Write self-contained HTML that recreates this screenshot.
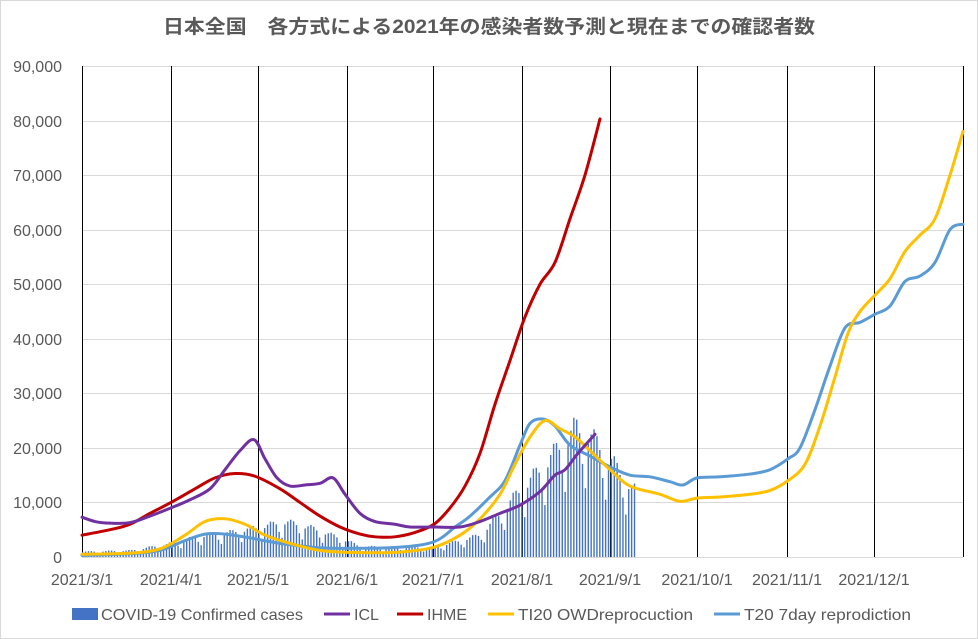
<!DOCTYPE html>
<html><head><meta charset="utf-8"><style>
html,body{margin:0;padding:0;background:#fff}
svg{display:block;font-family:"Liberation Sans","Noto Sans CJK JP",sans-serif}
</style></head><body>
<svg id="c" width="978" height="639" xmlns="http://www.w3.org/2000/svg">
<rect x="0.5" y="0.5" width="977" height="638" fill="#fff" stroke="#d9d9d9"/>
<text x="163" y="33" font-size="19" font-weight="bold" fill="#595959" textLength="652" lengthAdjust="spacingAndGlyphs">日本全国　各方式による2021年の感染者数予測と現在までの確認者数</text>
<g id="grid" stroke="#d9d9d9" stroke-width="1"></g>
<g id="vl" stroke="#000" stroke-width="1"></g>
<g id="bars" fill="#4472C4"></g>
<g id="lines" fill="none" stroke-width="3" stroke-linejoin="round" stroke-linecap="round"></g>
<g font-size="16" fill="#595959" text-anchor="end">
<text x="62" y="563">0</text><text x="62" y="508">10,000</text><text x="62" y="454">20,000</text><text x="62" y="399">30,000</text><text x="62" y="345">40,000</text><text x="62" y="290">50,000</text><text x="62" y="236">60,000</text><text x="62" y="181">70,000</text><text x="62" y="127">80,000</text><text x="62" y="72">90,000</text>
</g>
<g font-size="16" fill="#595959" text-anchor="middle">
<text x="82" y="585">2021/3/1</text><text x="171" y="585">2021/4/1</text><text x="258" y="585">2021/5/1</text><text x="347" y="585">2021/6/1</text><text x="433" y="585">2021/7/1</text><text x="522" y="585">2021/8/1</text><text x="610" y="585">2021/9/1</text><text x="697" y="585">2021/10/1</text><text x="787" y="585">2021/11/1</text><text x="874" y="585">2021/12/1</text>
</g>
<g font-size="16" fill="#595959">
<rect x="72" y="608" width="26" height="12" fill="#4472C4"/><text x="101" y="620" textLength="202" lengthAdjust="spacingAndGlyphs">COVID-19 Confirmed cases</text>
<line x1="324" y1="614" x2="350" y2="614" stroke="#7030A0" stroke-width="3"/><text x="354" y="620">ICL</text>
<line x1="397" y1="614" x2="423" y2="614" stroke="#C00000" stroke-width="3"/><text x="427" y="620">IHME</text>
<line x1="488" y1="614" x2="514" y2="614" stroke="#FFC000" stroke-width="3"/><text x="518" y="620" textLength="175" lengthAdjust="spacingAndGlyphs">TI20 OWDreprocuction</text>
<line x1="714" y1="614" x2="740" y2="614" stroke="#5B9BD5" stroke-width="3"/><text x="744" y="620" textLength="167" lengthAdjust="spacingAndGlyphs">T20 7day reprodiction</text>
</g>
</svg>
<script>
const NS="http://www.w3.org/2000/svg";
const Y=v=>557-v*5.4556;
function el(p,t,a){const e=document.createElementNS(NS,t);for(const k in a)e.setAttribute(k,a[k]);p.appendChild(e);return e;}
const g=document.getElementById('grid');
for(let i=1;i<=9;i++){const y=Math.round(Y(i*10))+0.5;el(g,'line',{x1:82,x2:963,y1:y,y2:y});}
el(g,'line',{x1:82,x2:963,y1:557.5,y2:557.5});
const vl=document.getElementById('vl');
[82,171,258,347,433,522,610,697,787,874,963].forEach(x=>el(vl,'line',{x1:x+0.5,x2:x+0.5,y1:66,y2:557}));
function interp(pts,x){for(let i=0;i<pts.length-1;i++){if(x>=pts[i][0]&&x<=pts[i+1][0]){const t=(x-pts[i][0])/(pts[i+1][0]-pts[i][0]);return pts[i][1]+t*(pts[i+1][1]-pts[i][1]);}}return pts[pts.length-1][1];}
const env=[[82,0.9],[130,1.1],[171,2.3],[200,3.6],[230,4.2],[255,5],[285,6],[310,5],[340,3.2],[360,1.8],[400,1.6],[434,1.7],[460,2.8],[480,3.8],[500,7.5],[520,11.5],[540,15],[560,19],[575,22],[590,20.5],[610,16.5],[625,13],[636,11]];
const wf=[1,1.1,1.18,1.15,1.05,0.8,0.6];
const b=document.getElementById('bars');
for(let d=0;;d++){const x=82+d*2.889;if(x>636)break;const v=interp(env,x)*wf[d%7];el(b,'rect',{x:x.toFixed(2),y:Y(v).toFixed(1),width:1.4,height:(v*5.4556).toFixed(1)});}
function smooth(p){let s=`M${p[0][0]},${Y(p[0][1])}`;const P=p.map(q=>[q[0],Y(q[1])]);for(let i=0;i<P.length-1;i++){const p0=P[i-1]||P[i],p1=P[i],p2=P[i+1],p3=P[i+2]||p2;s+=` C${p1[0]+(p2[0]-p0[0])/6},${p1[1]+(p2[1]-p0[1])/6} ${p2[0]-(p3[0]-p1[0])/6},${p2[1]-(p3[1]-p1[1])/6} ${p2[0]},${p2[1]}`;}return s;}
const L=document.getElementById('lines');
const series=[
["#5B9BD5",[[82,0.3],[130,0.6],[160,1.2],[185,3],[205,4.2],[225,4.2],[250,3.5],[280,2.5],[320,1.7],[360,1.6],[400,1.8],[434,2.8],[455,5.5],[470,7.5],[490,11],[505,14],[520,20.5],[530,24.5],[543,25.3],[555,24],[570,20.5],[590,18.5],[610,16.5],[630,15],[650,14.7],[670,13.8],[683,13.2],[697,14.5],[720,14.7],[750,15.2],[770,16],[788,18],[800,20],[815,27],[830,35],[845,42],[860,43],[875,44.5],[890,46],[905,50.5],[920,51.5],[935,54],[950,60],[963,61]]],
["#FFC000",[[82,0.5],[130,0.7],[160,1.5],[185,4],[205,6.5],[225,7],[245,6],[265,4],[290,2.5],[320,1.2],[360,0.8],[400,0.9],[434,1.8],[460,4],[480,7],[500,11.5],[515,17],[530,22],[545,25],[560,23.5],[575,22],[590,19.5],[610,16],[630,13],[660,11.5],[680,10.2],[697,10.8],[720,11],[750,11.5],[770,12.2],[788,14],[805,17],[820,24],[835,33],[848,41],[860,45],[875,48],[890,51],[905,56],[920,59],[935,62],[950,70],[963,78]]],
["#C00000",[[82,4],[110,5],[130,6],[150,8],[171,10],[195,12.5],[215,14.5],[235,15.3],[255,14.8],[280,12.5],[300,10],[320,7.5],[340,5.5],[360,4.2],[375,3.7],[395,3.7],[415,4.5],[434,6],[450,9],[465,13],[480,19],[495,28],[510,36],[525,44],[540,50],[555,54],[570,62],[585,70],[600,80.3]]],
["#7030A0",[[82,7.3],[95,6.5],[110,6.2],[130,6.3],[150,7.5],[171,9],[190,10.5],[210,12.5],[225,16],[240,19.5],[254,21.5],[265,18],[277,14.5],[290,13],[305,13.2],[320,13.5],[333,14.5],[345,11.5],[360,8],[375,6.5],[395,6],[410,5.5],[434,5.5],[460,5.5],[480,6.5],[500,8],[520,9.5],[540,12],[555,15],[565,16],[578,19],[595,22.5]]]
];
series.forEach(s=>el(L,'path',{d:smooth(s[1]),stroke:s[0]}));
</script>
</body></html>
